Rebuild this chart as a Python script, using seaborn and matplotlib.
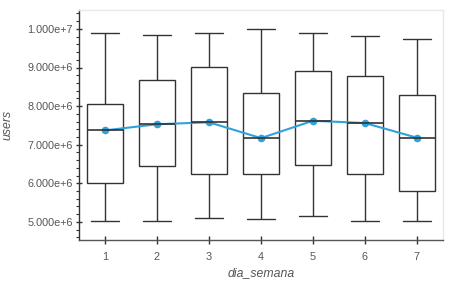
import numpy as np
import pandas as pd
import seaborn as sns
import matplotlib
matplotlib.use("Agg")
import matplotlib.pyplot as plt
from matplotlib.ticker import FuncFormatter, MultipleLocator

days = ["1", "2", "3", "4", "5", "6", "7"]
whisker_low = [5.03e6, 5.03e6, 5.09e6, 5.07e6, 5.16e6, 5.02e6, 5.02e6]
q1 = [6.00e6, 6.46e6, 6.24e6, 6.23e6, 6.48e6, 6.23e6, 5.81e6]
median = [7.37e6, 7.53e6, 7.58e6, 7.17e6, 7.62e6, 7.56e6, 7.18e6]
q3 = [8.05e6, 8.67e6, 9.02e6, 8.35e6, 8.91e6, 8.78e6, 8.30e6]
whisker_high = [9.90e6, 9.84e6, 9.89e6, 10.00e6, 9.90e6, 9.81e6, 9.73e6]

rows = []
for i, d in enumerate(days):
    for v in (whisker_low[i], q1[i], median[i], q3[i], whisker_high[i]):
        rows.append({"dia_semana": d, "users": v})
df = pd.DataFrame(rows)

sns.set_style("white")
plt.rcParams["font.family"] = ["Liberation Sans", "DejaVu Sans"]

fig = plt.figure(figsize=(4.72, 2.83), dpi=100)
ax = fig.add_axes([79/472, 1 - 240/283, (443-79)/472, (240-10)/283])

line_col = "#333333"
sns.boxplot(data=df, x="dia_semana", y="users", order=days, whis=np.inf,
            width=0.7, color="white", linecolor=line_col, linewidth=1.0,
            ax=ax,
            capprops=dict(color=line_col), whiskerprops=dict(color=line_col),
            medianprops=dict(color=line_col, linewidth=1.2),
            boxprops=dict(facecolor="white", edgecolor=line_col))

# whisker cap width
cap_half = 0.26
for cont in ax.containers:
    if hasattr(cont, "caps"):
        for cap in cont.caps:
            xd = np.asarray(cap.get_xdata(), dtype=float)
            c = xd.mean()
            cap.set_xdata([c - cap_half, c + cap_half])

blue = "#30a2da"
sns.pointplot(data=df, x="dia_semana", y="users", order=days,
              estimator="median", errorbar=None, color=blue,
              markersize=5.5, linewidth=1.5, ax=ax,
              markeredgewidth=0)

ax.set_xlim(-0.5, 6.5)
ax.set_ylim(4.53e6, 1.049e7)

def fmt(v, pos):
    s = f"{v:.3e}"
    mant, exp = s.split("e")
    sign = exp[0]
    e = int(exp[1:])
    return f"{mant}e{sign}{e}"

ax.yaxis.set_major_locator(MultipleLocator(1e6))
ax.yaxis.set_minor_locator(MultipleLocator(2e5))
ax.yaxis.set_major_formatter(FuncFormatter(fmt))

for side in ["top", "right"]:
    ax.spines[side].set_visible(True)
    ax.spines[side].set_color("#e8e8e8")
    ax.spines[side].set_linewidth(1.0)
ax.spines["left"].set_color("#333333")
ax.spines["bottom"].set_color("#555555")
ax.spines["left"].set_linewidth(1.0)
ax.spines["bottom"].set_linewidth(1.0)

ax.tick_params(axis="y", which="major", direction="inout", length=5, width=1,
               color="#333333", labelsize=7.8, labelcolor="#555555", left=True, pad=2)
ax.tick_params(axis="y", which="minor", direction="out", length=2.5, width=0.8,
               color="#333333", left=True)
ax.tick_params(axis="x", which="major", direction="inout", length=6, width=1,
               color="#333333", labelsize=7.8, labelcolor="#555555", bottom=True, pad=6)

ax.set_xlabel("dia_semana", fontsize=8.8, fontstyle="italic", color="#555555", labelpad=3)
ax.set_ylabel("users", fontsize=8.8, fontstyle="italic", color="#555555", labelpad=10)

fig.savefig("out.png", dpi=100)
